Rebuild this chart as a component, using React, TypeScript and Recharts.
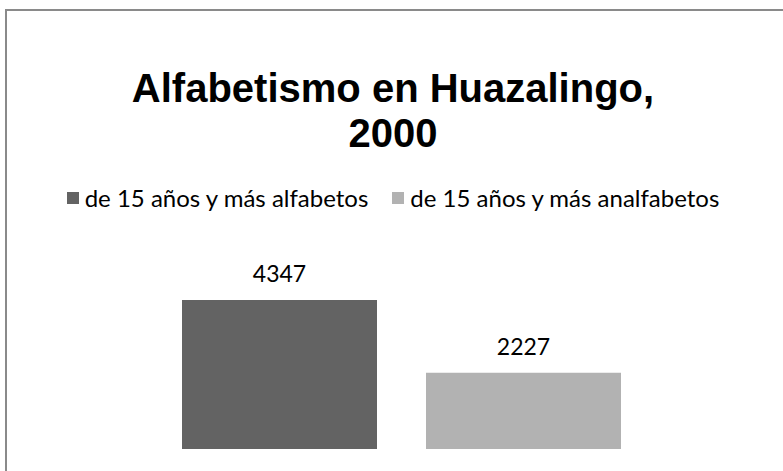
import React from "react";
import { BarChart, Bar, XAxis, YAxis, LabelList } from "recharts";

const categories = [""];
const seriesNames = ["de 15 años y más alfabetos", "de 15 años y más analfabetos"];
const seriesKeys = ["alfabetos", "analfabetos"];
const seriesValues = [4347, 2227];
const seriesColors = ["#636363", "#b2b2b2"];
const titleLines = ["Alfabetismo en Huazalingo,", "2000"];

const data = categories.map((c) => {
  const row: Record<string, string | number> = { name: c };
  seriesKeys.forEach((k, i) => (row[k] = seriesValues[i]));
  return row;
});

const FONT = "Lato, 'Open Sans', sans-serif";
const TITLE_FONT = "'Liberation Sans', Arial, sans-serif";

export default function App() {
  return (
    <div style={{ position: "fixed", left: 0, top: 0, width: 783, height: 471, overflow: "hidden", background: "#fff", fontFamily: FONT }}>
      <div style={{ position: "absolute", left: 5, top: 9, width: 820, height: 520, border: "2px solid #8a8a8a", boxSizing: "border-box" }} />
      <div style={{ position: "absolute", left: 0, top: 66, width: 786, textAlign: "center", fontFamily: TITLE_FONT, fontWeight: 700, fontSize: 40, lineHeight: "45px", color: "#000" }}>
        {titleLines.map((t, i) => (
          <div key={i}>{t}</div>
        ))}
      </div>
      <div style={{ position: "absolute", left: 0, top: 183, width: 786, display: "flex", justifyContent: "center", gap: 24, fontSize: 24, lineHeight: "30px", color: "#000" }}>
        {seriesNames.map((n, i) => (
          <div key={i} style={{ display: "flex", alignItems: "center" }}>
            <span style={{ display: "inline-block", width: 12, height: 12, background: seriesColors[i], marginRight: 6 }} />
            <span>{n}</span>
          </div>
        ))}
      </div>
      <div style={{ position: "absolute", left: 0, top: 0 }}>
        <BarChart width={783} height={471} data={data} margin={{ top: 277.6, right: 90, bottom: 22, left: 110 }} barSize={195} barGap={49}>
          <XAxis dataKey="name" hide />
          <YAxis hide domain={[0, 5000]} />
          {seriesKeys.map((k, i) => (
            <Bar key={k} dataKey={k} name={seriesNames[i]} fill={seriesColors[i]} isAnimationActive={false}>
              <LabelList dataKey={k} position="top" offset={18} style={{ fontFamily: FONT, fontSize: 23, fill: "#000" }} />
            </Bar>
          ))}
        </BarChart>
      </div>
    </div>
  );
}
